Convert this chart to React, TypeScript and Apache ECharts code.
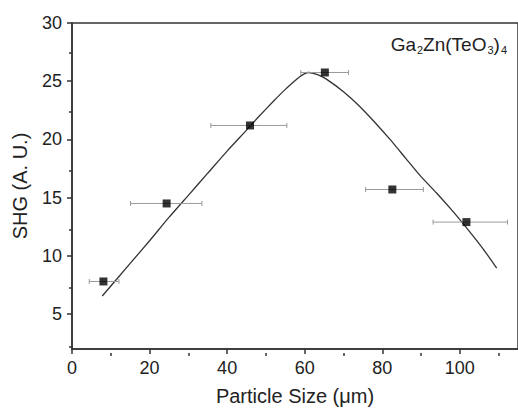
import React, { useEffect, useRef } from "react";
import * as echarts from "echarts";

// Particle size (μm) and SHG intensity (A. U.)
const sizes = [8.1, 24.4, 45.9, 65.2, 82.6, 101.7];
const shg = [7.8, 14.5, 21.2, 25.75, 15.7, 12.9];
const errLow = [4.45, 15.1, 35.8, 59.0, 75.7, 93.1];
const errHigh = [12.1, 33.5, 55.4, 71.3, 90.6, 112.3];

// fitted curve
const fitX = [7.8, 15, 20, 25, 30, 35, 40, 45, 48, 52, 55, 58, 60, 61, 62, 63.5, 65.5, 70, 74, 78, 82, 86, 90, 94, 98, 102, 106, 109.5];
const fitY = [6.55, 9.35, 11.3, 13.3, 15.2, 17.1, 19.0, 20.8, 21.9, 23.3, 24.3, 25.2, 25.65, 25.75, 25.7, 25.55, 25.2, 24.1, 22.9, 21.5, 20.0, 18.4, 16.8, 15.4, 13.9, 12.3, 10.6, 8.95];

const xMajor = [0, 20, 40, 60, 80, 100];
const xMinor = [10, 30, 50, 70, 90, 110];
const yMajor = [5, 10, 15, 20, 25, 30];
const yMinor = [2.5, 7.5, 12.5, 17.5, 22.5, 27.5];

const FONT = "Liberation Sans, Arial, Helvetica, sans-serif";
const AXIS = "#333";
const TEXT = "#222";

export default function App() {
  const ref = useRef<HTMLDivElement>(null);
  useEffect(() => {
    if (!ref.current) return;
    const chart = echarts.init(ref.current, undefined, { renderer: "svg" });
    const gridBox = { left: 72, top: 23, width: 447, height: 330 };
    chart.setOption({
      animation: false,
      backgroundColor: "#fff",
      title: {
        right: 6,
        top: 30,
        text: "{a|Ga}{s|2}{a|Zn(TeO}{s|3}{a|)}{s|4}",
        textStyle: {
          fontWeight: "normal",
          rich: {
            a: { fontSize: 19, lineHeight: 19, color: TEXT, fontFamily: FONT, fontWeight: "normal" },
            s: { fontSize: 11, lineHeight: 11, padding: [11, 0, 0, 1], color: TEXT, fontFamily: FONT, fontWeight: "normal" },
          },
        },
      },
      grid: [
        { ...gridBox, show: true, borderColor: AXIS, borderWidth: 1.5, containLabel: false },
        { ...gridBox, show: false, containLabel: false },
      ],
      xAxis: [
        {
          gridIndex: 0,
          type: "value",
          min: 0,
          max: 115,
          name: "Particle Size (μm)",
          nameLocation: "middle",
          nameGap: 37,
          nameTextStyle: { fontSize: 20, color: TEXT, fontFamily: FONT },
          axisLine: { show: true, lineStyle: { color: AXIS, width: 1.5 } },
          axisTick: { show: true, customValues: xMajor, length: 5, inside: false, lineStyle: { color: AXIS, width: 1.5 } },
          axisLabel: { customValues: xMajor, fontSize: 18, color: TEXT, fontFamily: FONT, margin: 10 },
          splitLine: { show: false },
        },
        {
          gridIndex: 1,
          type: "value",
          min: 0,
          max: 115,
          position: "bottom",
          axisLine: { show: false },
          axisTick: { show: true, customValues: xMinor, length: 3, inside: false, lineStyle: { color: AXIS, width: 1.5 } },
          axisLabel: { show: false },
          splitLine: { show: false },
        },
      ],
      yAxis: [
        {
          gridIndex: 0,
          type: "value",
          min: 2,
          max: 30,
          name: "SHG (A. U.)",
          nameLocation: "middle",
          nameGap: 42,
          nameTextStyle: { fontSize: 20, color: TEXT, fontFamily: FONT },
          axisLine: { show: true, lineStyle: { color: AXIS, width: 1.5 } },
          axisTick: { show: true, customValues: yMajor, length: 5, inside: false, lineStyle: { color: AXIS, width: 1.5 } },
          axisLabel: { customValues: yMajor, fontSize: 18, color: TEXT, fontFamily: FONT, margin: 10 },
          splitLine: { show: false },
        },
        {
          gridIndex: 1,
          type: "value",
          min: 2,
          max: 30,
          position: "left",
          axisLine: { show: false },
          axisTick: { show: true, customValues: yMinor, length: 3, inside: false, lineStyle: { color: AXIS, width: 1.5 } },
          axisLabel: { show: false },
          splitLine: { show: false },
        },
      ],
      series: [
        {
          type: "line",
          xAxisIndex: 0,
          yAxisIndex: 0,
          data: fitX.map((x, i) => [x, fitY[i]]),
          symbol: "none",
          smooth: 0.2,
          lineStyle: { color: "#333", width: 1.3 },
          z: 2,
        },
        {
          type: "custom",
          xAxisIndex: 0,
          yAxisIndex: 0,
          data: sizes.map((x, i) => [x, shg[i], errLow[i], errHigh[i]]),
          encode: { x: [0, 2, 3], y: 1 },
          renderItem: (params: any, api: any) => {
            const y = api.value(1);
            const p1 = api.coord([api.value(2), y]);
            const p2 = api.coord([api.value(3), y]);
            const h = 2.5;
            const st = { stroke: "#999", lineWidth: 1 };
            return {
              type: "group",
              children: [
                { type: "line", shape: { x1: p1[0], y1: p1[1], x2: p2[0], y2: p2[1] }, style: st },
                { type: "line", shape: { x1: p1[0], y1: p1[1] - h, x2: p1[0], y2: p1[1] + h }, style: st },
                { type: "line", shape: { x1: p2[0], y1: p2[1] - h, x2: p2[0], y2: p2[1] + h }, style: st },
              ],
            };
          },
          z: 3,
        },
        {
          type: "scatter",
          xAxisIndex: 0,
          yAxisIndex: 0,
          data: sizes.map((x, i) => [x, shg[i]]),
          symbol: "rect",
          symbolSize: 8,
          itemStyle: { color: "#000" },
          z: 4,
        },
      ],
    });
    return () => chart.dispose();
  }, []);
  return (
    <div
      ref={ref}
      style={{ position: "absolute", left: 0, top: 0, width: 518, height: 411, background: "#fff" }}
    />
  );
}
